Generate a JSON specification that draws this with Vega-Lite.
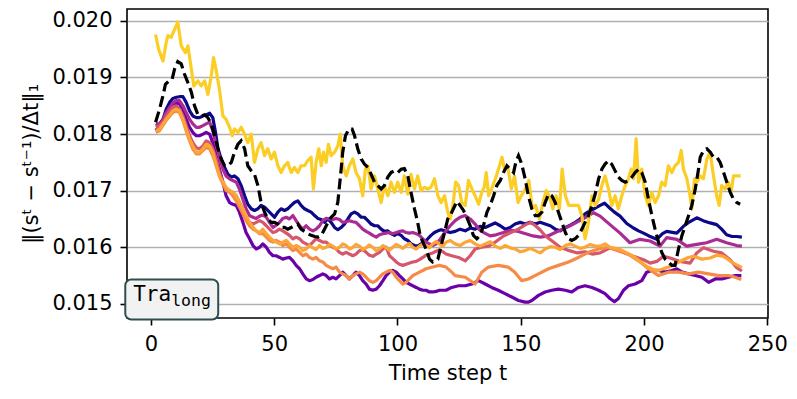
{
"$schema":"https://vega.github.io/schema/vega-lite/v6.json",
"width":641,"height":309,
"autosize":{"type":"none"},
"padding":{"left":127,"top":9,"right":29,"bottom":81},
"config":{"view":{"stroke":"black","strokeWidth":1.6},"font":"DejaVu Sans",
"axis":{"labelFont":"DejaVu Sans","titleFont":"DejaVu Sans","labelFontSize":21,"titleFontSize":21,"labelColor":"black","titleColor":"black","titleFontWeight":"normal","tickColor":"black","tickWidth":1.6,"tickSize":7,"labelPadding":8,"domain":false,"labelFlush":false,"labelOverlap":false}},
"datasets":{"lines":[
{"s":"navy","t":2,"v":0.01806},{"s":"navy","t":3.5,"v":0.01815},{"s":"navy","t":4.9,"v":0.01826},{"s":"navy","t":6.2,"v":0.01844},{"s":"navy","t":7.6,"v":0.01856},{"s":"navy","t":8.9,"v":0.01863},{"s":"navy","t":10.3,"v":0.01865},{"s":"navy","t":11.6,"v":0.01866},{"s":"navy","t":13,"v":0.01866},{"s":"navy","t":14.3,"v":0.01856},{"s":"navy","t":15.7,"v":0.01841},{"s":"navy","t":17,"v":0.01832},{"s":"navy","t":18.4,"v":0.01829},{"s":"navy","t":19.7,"v":0.01829},{"s":"navy","t":21.1,"v":0.01832},{"s":"navy","t":22.4,"v":0.01834},{"s":"navy","t":23.8,"v":0.01837},{"s":"navy","t":25.1,"v":0.01829},{"s":"navy","t":26.2,"v":0.01803},{"s":"navy","t":27.2,"v":0.01774},{"s":"navy","t":28.5,"v":0.01756},{"s":"navy","t":29.9,"v":0.01741},{"s":"navy","t":31.2,"v":0.01729},{"s":"navy","t":32.6,"v":0.01724},{"s":"navy","t":33.9,"v":0.01726},{"s":"navy","t":35.3,"v":0.01721},{"s":"navy","t":36.6,"v":0.01709},{"s":"navy","t":38,"v":0.01691},{"s":"navy","t":39.3,"v":0.01676},{"s":"navy","t":40.7,"v":0.01668},{"s":"navy","t":42,"v":0.01665},{"s":"navy","t":43.4,"v":0.01668},{"s":"navy","t":44.7,"v":0.01674},{"s":"navy","t":46.1,"v":0.01671},{"s":"navy","t":47.4,"v":0.01665},{"s":"navy","t":48.8,"v":0.01659},{"s":"navy","t":50.1,"v":0.01653},{"s":"navy","t":51.5,"v":0.01662},{"s":"navy","t":52.8,"v":0.01668},{"s":"navy","t":54.2,"v":0.01665},{"s":"navy","t":55.5,"v":0.01668},{"s":"navy","t":56.9,"v":0.01674},{"s":"navy","t":58.2,"v":0.01679},{"s":"navy","t":59.6,"v":0.01682},{"s":"navy","t":60.9,"v":0.01674},{"s":"navy","t":62.3,"v":0.01668},{"s":"navy","t":63.6,"v":0.01665},{"s":"navy","t":65,"v":0.01662},{"s":"navy","t":66.4,"v":0.01656},{"s":"navy","t":67.7,"v":0.01651},{"s":"navy","t":69.1,"v":0.01649},{"s":"navy","t":70.4,"v":0.01644},{"s":"navy","t":71.8,"v":0.0165},{"s":"navy","t":73.1,"v":0.01644},{"s":"navy","t":74.5,"v":0.01635},{"s":"navy","t":75.8,"v":0.01631},{"s":"navy","t":77.2,"v":0.01635},{"s":"navy","t":78.5,"v":0.01641},{"s":"navy","t":79.9,"v":0.0165},{"s":"navy","t":81.2,"v":0.01659},{"s":"navy","t":82.6,"v":0.01662},{"s":"navy","t":83.9,"v":0.01659},{"s":"navy","t":85.3,"v":0.01653},{"s":"navy","t":86.6,"v":0.01653},{"s":"navy","t":88,"v":0.01647},{"s":"navy","t":89.3,"v":0.01641},{"s":"navy","t":90.7,"v":0.01638},{"s":"navy","t":92,"v":0.01638},{"s":"navy","t":93.4,"v":0.01632},{"s":"navy","t":94.7,"v":0.01628},{"s":"navy","t":96.1,"v":0.01629},{"s":"navy","t":97.4,"v":0.01624},{"s":"navy","t":98.8,"v":0.01621},{"s":"navy","t":100.1,"v":0.01624},{"s":"navy","t":101.5,"v":0.01621},{"s":"navy","t":102.8,"v":0.01615},{"s":"navy","t":104.2,"v":0.01612},{"s":"navy","t":105.5,"v":0.01606},{"s":"navy","t":106.9,"v":0.01603},{"s":"navy","t":108.2,"v":0.01602},{"s":"navy","t":109.6,"v":0.01606},{"s":"navy","t":110.9,"v":0.01609},{"s":"navy","t":112.3,"v":0.01615},{"s":"navy","t":113.6,"v":0.01621},{"s":"navy","t":115,"v":0.01626},{"s":"navy","t":116.4,"v":0.01629},{"s":"navy","t":117.7,"v":0.01631},{"s":"navy","t":119.1,"v":0.01629},{"s":"navy","t":121.4,"v":0.01626},{"s":"navy","t":123.4,"v":0.01628},{"s":"navy","t":125.4,"v":0.01632},{"s":"navy","t":127.5,"v":0.01629},{"s":"navy","t":129.5,"v":0.01634},{"s":"navy","t":131.5,"v":0.01632},{"s":"navy","t":133.5,"v":0.01637},{"s":"navy","t":135.6,"v":0.01635},{"s":"navy","t":137.6,"v":0.01639},{"s":"navy","t":139.6,"v":0.01643},{"s":"navy","t":141.7,"v":0.01638},{"s":"navy","t":143.7,"v":0.01632},{"s":"navy","t":145.7,"v":0.01635},{"s":"navy","t":147.7,"v":0.01641},{"s":"navy","t":149.8,"v":0.01644},{"s":"navy","t":151.8,"v":0.01641},{"s":"navy","t":153.8,"v":0.01644},{"s":"navy","t":155.9,"v":0.01641},{"s":"navy","t":157.9,"v":0.01644},{"s":"navy","t":159.9,"v":0.01641},{"s":"navy","t":162,"v":0.01638},{"s":"navy","t":164,"v":0.01632},{"s":"navy","t":166,"v":0.01629},{"s":"navy","t":168.1,"v":0.01635},{"s":"navy","t":170.1,"v":0.01639},{"s":"navy","t":172.1,"v":0.01644},{"s":"navy","t":174.1,"v":0.0165},{"s":"navy","t":176.1,"v":0.01659},{"s":"navy","t":178.2,"v":0.01665},{"s":"navy","t":180.2,"v":0.01669},{"s":"navy","t":182.2,"v":0.01674},{"s":"navy","t":184,"v":0.01678},{"s":"navy","t":186.2,"v":0.01669},{"s":"navy","t":188,"v":0.01662},{"s":"navy","t":190.3,"v":0.01655},{"s":"navy","t":193,"v":0.01642},{"s":"navy","t":195.7,"v":0.01634},{"s":"navy","t":197.8,"v":0.01629},{"s":"navy","t":199.8,"v":0.01625},{"s":"navy","t":202,"v":0.0162},{"s":"navy","t":205.2,"v":0.01614},{"s":"navy","t":207.5,"v":0.01624},{"s":"navy","t":209.2,"v":0.01628},{"s":"navy","t":213.3,"v":0.01625},{"s":"navy","t":216,"v":0.01637},{"s":"navy","t":218.5,"v":0.01645},{"s":"navy","t":221.4,"v":0.01652},{"s":"navy","t":224,"v":0.01647},{"s":"navy","t":226.8,"v":0.01643},{"s":"navy","t":229.5,"v":0.0164},{"s":"navy","t":231.5,"v":0.01632},{"s":"navy","t":233.5,"v":0.01622},{"s":"navy","t":235.7,"v":0.01619},{"s":"navy","t":237.6,"v":0.01619},{"s":"navy","t":239.7,"v":0.01618},
{"s":"violet","t":2,"v":0.01815},{"s":"violet","t":3.5,"v":0.01818},{"s":"violet","t":4.9,"v":0.01826},{"s":"violet","t":6.2,"v":0.01838},{"s":"violet","t":7.6,"v":0.01847},{"s":"violet","t":8.9,"v":0.01853},{"s":"violet","t":10.3,"v":0.01856},{"s":"violet","t":11.6,"v":0.01853},{"s":"violet","t":13,"v":0.01844},{"s":"violet","t":14.3,"v":0.01826},{"s":"violet","t":15.7,"v":0.01812},{"s":"violet","t":17,"v":0.01803},{"s":"violet","t":18.4,"v":0.01797},{"s":"violet","t":19.7,"v":0.01797},{"s":"violet","t":21.1,"v":0.018},{"s":"violet","t":22.4,"v":0.01803},{"s":"violet","t":23.8,"v":0.018},{"s":"violet","t":25.1,"v":0.01785},{"s":"violet","t":26.5,"v":0.01762},{"s":"violet","t":27.8,"v":0.01738},{"s":"violet","t":29.2,"v":0.01715},{"s":"violet","t":30.5,"v":0.01691},{"s":"violet","t":31.9,"v":0.01679},{"s":"violet","t":33.2,"v":0.01676},{"s":"violet","t":34.6,"v":0.01674},{"s":"violet","t":35.9,"v":0.01662},{"s":"violet","t":37.3,"v":0.01644},{"s":"violet","t":38.6,"v":0.01626},{"s":"violet","t":40,"v":0.01615},{"s":"violet","t":41.4,"v":0.01603},{"s":"violet","t":42.7,"v":0.01597},{"s":"violet","t":44.1,"v":0.016},{"s":"violet","t":45.4,"v":0.01606},{"s":"violet","t":46.8,"v":0.016},{"s":"violet","t":48.1,"v":0.01591},{"s":"violet","t":49.5,"v":0.01585},{"s":"violet","t":50.8,"v":0.01585},{"s":"violet","t":52.2,"v":0.01582},{"s":"violet","t":53.5,"v":0.01579},{"s":"violet","t":54.9,"v":0.01581},{"s":"violet","t":56.2,"v":0.01582},{"s":"violet","t":57.6,"v":0.01576},{"s":"violet","t":58.9,"v":0.01568},{"s":"violet","t":60.3,"v":0.01562},{"s":"violet","t":61.6,"v":0.01553},{"s":"violet","t":63,"v":0.01544},{"s":"violet","t":64.3,"v":0.01541},{"s":"violet","t":65.7,"v":0.01543},{"s":"violet","t":67,"v":0.01547},{"s":"violet","t":68.4,"v":0.0155},{"s":"violet","t":69.7,"v":0.01553},{"s":"violet","t":71.1,"v":0.0155},{"s":"violet","t":72.4,"v":0.01544},{"s":"violet","t":73.8,"v":0.01547},{"s":"violet","t":75.1,"v":0.01544},{"s":"violet","t":76.5,"v":0.0155},{"s":"violet","t":77.8,"v":0.01556},{"s":"violet","t":79.2,"v":0.0155},{"s":"violet","t":80.5,"v":0.01544},{"s":"violet","t":81.9,"v":0.0155},{"s":"violet","t":83.2,"v":0.01556},{"s":"violet","t":84.6,"v":0.0155},{"s":"violet","t":85.9,"v":0.01541},{"s":"violet","t":87.3,"v":0.01535},{"s":"violet","t":88.6,"v":0.01526},{"s":"violet","t":90,"v":0.01524},{"s":"violet","t":91.4,"v":0.01526},{"s":"violet","t":92.7,"v":0.01532},{"s":"violet","t":94.1,"v":0.01541},{"s":"violet","t":95.4,"v":0.0155},{"s":"violet","t":96.8,"v":0.01556},{"s":"violet","t":98.1,"v":0.01559},{"s":"violet","t":99.5,"v":0.01556},{"s":"violet","t":100.8,"v":0.0155},{"s":"violet","t":102.2,"v":0.01544},{"s":"violet","t":103.5,"v":0.01538},{"s":"violet","t":104.9,"v":0.01535},{"s":"violet","t":106.2,"v":0.01532},{"s":"violet","t":107.6,"v":0.01529},{"s":"violet","t":108.9,"v":0.01526},{"s":"violet","t":110.3,"v":0.01524},{"s":"violet","t":111.6,"v":0.01524},{"s":"violet","t":113,"v":0.01521},{"s":"violet","t":114.3,"v":0.01521},{"s":"violet","t":115.7,"v":0.01522},{"s":"violet","t":117,"v":0.01524},{"s":"violet","t":118.4,"v":0.01524},{"s":"violet","t":119.7,"v":0.01524},{"s":"violet","t":122,"v":0.01529},{"s":"violet","t":124.8,"v":0.01532},{"s":"violet","t":127.5,"v":0.01532},{"s":"violet","t":130.2,"v":0.01535},{"s":"violet","t":132.9,"v":0.01541},{"s":"violet","t":135.6,"v":0.01535},{"s":"violet","t":138.2,"v":0.01529},{"s":"violet","t":140.9,"v":0.01524},{"s":"violet","t":143.6,"v":0.01518},{"s":"violet","t":146.4,"v":0.01512},{"s":"violet","t":149.1,"v":0.01506},{"s":"violet","t":151.8,"v":0.01503},{"s":"violet","t":153.1,"v":0.01503},{"s":"violet","t":154.5,"v":0.01506},{"s":"violet","t":157.2,"v":0.01515},{"s":"violet","t":159.9,"v":0.01521},{"s":"violet","t":162.6,"v":0.01524},{"s":"violet","t":165.3,"v":0.01526},{"s":"violet","t":168.1,"v":0.01524},{"s":"violet","t":170.7,"v":0.01521},{"s":"violet","t":173.4,"v":0.01529},{"s":"violet","t":176.1,"v":0.01532},{"s":"violet","t":178.9,"v":0.01529},{"s":"violet","t":181.6,"v":0.01524},{"s":"violet","t":184.2,"v":0.01518},{"s":"violet","t":186.3,"v":0.01509},{"s":"violet","t":188,"v":0.01504},{"s":"violet","t":189.6,"v":0.01509},{"s":"violet","t":191.7,"v":0.01524},{"s":"violet","t":193.7,"v":0.01532},{"s":"violet","t":196.4,"v":0.01535},{"s":"violet","t":199.1,"v":0.01541},{"s":"violet","t":201.1,"v":0.01556},{"s":"violet","t":203.2,"v":0.01559},{"s":"violet","t":205.9,"v":0.01559},{"s":"violet","t":208.6,"v":0.01556},{"s":"violet","t":211.3,"v":0.01559},{"s":"violet","t":213.3,"v":0.01562},{"s":"violet","t":215.4,"v":0.01556},{"s":"violet","t":218.1,"v":0.01553},{"s":"violet","t":220.8,"v":0.0155},{"s":"violet","t":223.5,"v":0.01547},{"s":"violet","t":226.2,"v":0.01538},{"s":"violet","t":228.9,"v":0.01544},{"s":"violet","t":231.6,"v":0.01544},{"s":"violet","t":234.3,"v":0.01547},{"s":"violet","t":237,"v":0.0155},{"s":"violet","t":239.5,"v":0.0155},
{"s":"magenta","t":2,"v":0.01818},{"s":"magenta","t":3.5,"v":0.01818},{"s":"magenta","t":4.9,"v":0.01826},{"s":"magenta","t":6.2,"v":0.01838},{"s":"magenta","t":7.6,"v":0.01847},{"s":"magenta","t":8.9,"v":0.01855},{"s":"magenta","t":10.3,"v":0.01859},{"s":"magenta","t":11.6,"v":0.01859},{"s":"magenta","t":13,"v":0.0185},{"s":"magenta","t":14.3,"v":0.01838},{"s":"magenta","t":15.7,"v":0.01826},{"s":"magenta","t":17,"v":0.01818},{"s":"magenta","t":18.4,"v":0.01812},{"s":"magenta","t":19.7,"v":0.01812},{"s":"magenta","t":21.1,"v":0.01815},{"s":"magenta","t":22.4,"v":0.01818},{"s":"magenta","t":23.8,"v":0.01821},{"s":"magenta","t":25.1,"v":0.01806},{"s":"magenta","t":26.2,"v":0.01785},{"s":"magenta","t":27.6,"v":0.01762},{"s":"magenta","t":29.2,"v":0.01738},{"s":"magenta","t":30.5,"v":0.01726},{"s":"magenta","t":31.9,"v":0.01721},{"s":"magenta","t":33.2,"v":0.01718},{"s":"magenta","t":34.6,"v":0.01715},{"s":"magenta","t":35.9,"v":0.01703},{"s":"magenta","t":37.3,"v":0.01685},{"s":"magenta","t":38.6,"v":0.01668},{"s":"magenta","t":40,"v":0.01656},{"s":"magenta","t":41.4,"v":0.01653},{"s":"magenta","t":42.7,"v":0.01651},{"s":"magenta","t":44.1,"v":0.01655},{"s":"magenta","t":45.4,"v":0.01657},{"s":"magenta","t":46.8,"v":0.01653},{"s":"magenta","t":48.1,"v":0.01644},{"s":"magenta","t":49.5,"v":0.01635},{"s":"magenta","t":50.8,"v":0.01639},{"s":"magenta","t":52.2,"v":0.01644},{"s":"magenta","t":53.5,"v":0.01651},{"s":"magenta","t":54.9,"v":0.01653},{"s":"magenta","t":56.2,"v":0.0165},{"s":"magenta","t":57.6,"v":0.01656},{"s":"magenta","t":58.9,"v":0.01647},{"s":"magenta","t":60.3,"v":0.01638},{"s":"magenta","t":61.6,"v":0.01632},{"s":"magenta","t":63,"v":0.01638},{"s":"magenta","t":64.3,"v":0.01632},{"s":"magenta","t":65.7,"v":0.01629},{"s":"magenta","t":67,"v":0.01632},{"s":"magenta","t":68.4,"v":0.01638},{"s":"magenta","t":69.7,"v":0.01647},{"s":"magenta","t":71.1,"v":0.01651},{"s":"magenta","t":72.4,"v":0.0165},{"s":"magenta","t":73.8,"v":0.01649},{"s":"magenta","t":75.1,"v":0.01651},{"s":"magenta","t":76.5,"v":0.01649},{"s":"magenta","t":77.8,"v":0.01644},{"s":"magenta","t":79.2,"v":0.01645},{"s":"magenta","t":80.5,"v":0.01647},{"s":"magenta","t":81.9,"v":0.01645},{"s":"magenta","t":83.2,"v":0.01644},{"s":"magenta","t":84.6,"v":0.01638},{"s":"magenta","t":85.9,"v":0.01632},{"s":"magenta","t":87.3,"v":0.01628},{"s":"magenta","t":88.6,"v":0.01625},{"s":"magenta","t":90,"v":0.01621},{"s":"magenta","t":91.4,"v":0.01618},{"s":"magenta","t":92.7,"v":0.01622},{"s":"magenta","t":94.1,"v":0.01624},{"s":"magenta","t":95.4,"v":0.01625},{"s":"magenta","t":96.8,"v":0.01626},{"s":"magenta","t":98.1,"v":0.01624},{"s":"magenta","t":99.5,"v":0.01626},{"s":"magenta","t":100.8,"v":0.01628},{"s":"magenta","t":102.2,"v":0.01629},{"s":"magenta","t":103.5,"v":0.01626},{"s":"magenta","t":104.9,"v":0.01625},{"s":"magenta","t":106.2,"v":0.01626},{"s":"magenta","t":107.6,"v":0.01624},{"s":"magenta","t":108.9,"v":0.01621},{"s":"magenta","t":110.3,"v":0.01615},{"s":"magenta","t":111.6,"v":0.01609},{"s":"magenta","t":113,"v":0.01606},{"s":"magenta","t":114.3,"v":0.01603},{"s":"magenta","t":115.7,"v":0.01606},{"s":"magenta","t":117,"v":0.01612},{"s":"magenta","t":118.4,"v":0.01621},{"s":"magenta","t":119.7,"v":0.01629},{"s":"magenta","t":121.4,"v":0.01638},{"s":"magenta","t":123.4,"v":0.01647},{"s":"magenta","t":125.4,"v":0.01653},{"s":"magenta","t":127.5,"v":0.01656},{"s":"magenta","t":129.5,"v":0.0165},{"s":"magenta","t":131.5,"v":0.01641},{"s":"magenta","t":133,"v":0.01632},{"s":"magenta","t":135,"v":0.01626},{"s":"magenta","t":137.6,"v":0.0162},{"s":"magenta","t":140,"v":0.01622},{"s":"magenta","t":143,"v":0.01626},{"s":"magenta","t":146,"v":0.0163},{"s":"magenta","t":149,"v":0.01628},{"s":"magenta","t":152,"v":0.01624},{"s":"magenta","t":155,"v":0.0162},{"s":"magenta","t":158,"v":0.01618},{"s":"magenta","t":161,"v":0.0162},{"s":"magenta","t":164,"v":0.01626},{"s":"magenta","t":167,"v":0.01632},{"s":"magenta","t":170,"v":0.01638},{"s":"magenta","t":173,"v":0.01645},{"s":"magenta","t":176,"v":0.01652},{"s":"magenta","t":179.5,"v":0.01661},{"s":"magenta","t":182.2,"v":0.01655},{"s":"magenta","t":186.2,"v":0.0164},{"s":"magenta","t":190.3,"v":0.01625},{"s":"magenta","t":194.3,"v":0.01608},{"s":"magenta","t":198.4,"v":0.01614},{"s":"magenta","t":202.5,"v":0.01611},{"s":"magenta","t":206.5,"v":0.01602},{"s":"magenta","t":209.2,"v":0.01617},{"s":"magenta","t":213.3,"v":0.01614},{"s":"magenta","t":217.3,"v":0.01602},{"s":"magenta","t":221.4,"v":0.01605},{"s":"magenta","t":225.4,"v":0.01608},{"s":"magenta","t":229.5,"v":0.01614},{"s":"magenta","t":233.5,"v":0.01608},{"s":"magenta","t":237.6,"v":0.01603},{"s":"magenta","t":239.7,"v":0.01602},
{"s":"pink","t":2,"v":0.01812},{"s":"pink","t":3.5,"v":0.01815},{"s":"pink","t":4.9,"v":0.01821},{"s":"pink","t":6.2,"v":0.01832},{"s":"pink","t":7.6,"v":0.01841},{"s":"pink","t":8.9,"v":0.01847},{"s":"pink","t":10.3,"v":0.0185},{"s":"pink","t":11.6,"v":0.01844},{"s":"pink","t":13,"v":0.01832},{"s":"pink","t":14.3,"v":0.01815},{"s":"pink","t":15.7,"v":0.01797},{"s":"pink","t":17,"v":0.01785},{"s":"pink","t":18.4,"v":0.01776},{"s":"pink","t":19.7,"v":0.01774},{"s":"pink","t":21.1,"v":0.01779},{"s":"pink","t":22.4,"v":0.01788},{"s":"pink","t":23.8,"v":0.01785},{"s":"pink","t":25.1,"v":0.01774},{"s":"pink","t":26.5,"v":0.01756},{"s":"pink","t":27.8,"v":0.01732},{"s":"pink","t":29.2,"v":0.01715},{"s":"pink","t":30.5,"v":0.01703},{"s":"pink","t":31.9,"v":0.017},{"s":"pink","t":33.2,"v":0.01697},{"s":"pink","t":34.6,"v":0.01691},{"s":"pink","t":35.9,"v":0.01679},{"s":"pink","t":37.3,"v":0.01668},{"s":"pink","t":38.6,"v":0.01653},{"s":"pink","t":40,"v":0.01644},{"s":"pink","t":41.4,"v":0.01641},{"s":"pink","t":42.7,"v":0.01644},{"s":"pink","t":44.1,"v":0.01647},{"s":"pink","t":45.4,"v":0.01644},{"s":"pink","t":46.8,"v":0.01638},{"s":"pink","t":48.1,"v":0.01632},{"s":"pink","t":49.5,"v":0.01626},{"s":"pink","t":50.8,"v":0.01628},{"s":"pink","t":52.2,"v":0.01632},{"s":"pink","t":53.5,"v":0.01629},{"s":"pink","t":54.9,"v":0.01625},{"s":"pink","t":56.2,"v":0.01621},{"s":"pink","t":57.6,"v":0.01615},{"s":"pink","t":58.9,"v":0.01618},{"s":"pink","t":60.3,"v":0.01615},{"s":"pink","t":61.6,"v":0.01609},{"s":"pink","t":63,"v":0.01606},{"s":"pink","t":64.3,"v":0.01603},{"s":"pink","t":65.7,"v":0.01609},{"s":"pink","t":67,"v":0.01615},{"s":"pink","t":68.4,"v":0.01612},{"s":"pink","t":69.7,"v":0.01609},{"s":"pink","t":71.1,"v":0.01609},{"s":"pink","t":72.4,"v":0.01604},{"s":"pink","t":73.8,"v":0.016},{"s":"pink","t":75.1,"v":0.01597},{"s":"pink","t":76.5,"v":0.01591},{"s":"pink","t":77.8,"v":0.01588},{"s":"pink","t":79.2,"v":0.01591},{"s":"pink","t":80.5,"v":0.01588},{"s":"pink","t":81.9,"v":0.01585},{"s":"pink","t":83.2,"v":0.01588},{"s":"pink","t":84.6,"v":0.01594},{"s":"pink","t":85.9,"v":0.01596},{"s":"pink","t":87.3,"v":0.01591},{"s":"pink","t":88.6,"v":0.01586},{"s":"pink","t":90,"v":0.01584},{"s":"pink","t":91.4,"v":0.01588},{"s":"pink","t":92.7,"v":0.01591},{"s":"pink","t":94.1,"v":0.01597},{"s":"pink","t":95.4,"v":0.016},{"s":"pink","t":96.8,"v":0.01585},{"s":"pink","t":98.1,"v":0.0158},{"s":"pink","t":99.5,"v":0.01574},{"s":"pink","t":100.8,"v":0.0157},{"s":"pink","t":102.2,"v":0.01568},{"s":"pink","t":103.5,"v":0.0157},{"s":"pink","t":104.9,"v":0.01572},{"s":"pink","t":106.2,"v":0.01574},{"s":"pink","t":107.6,"v":0.01575},{"s":"pink","t":108.9,"v":0.01578},{"s":"pink","t":110.3,"v":0.01582},{"s":"pink","t":111.6,"v":0.01586},{"s":"pink","t":113,"v":0.01588},{"s":"pink","t":114.3,"v":0.0159},{"s":"pink","t":115.7,"v":0.01593},{"s":"pink","t":117,"v":0.01595},{"s":"pink","t":118.4,"v":0.01592},{"s":"pink","t":119.7,"v":0.01588},{"s":"pink","t":122,"v":0.01585},{"s":"pink","t":124.8,"v":0.01582},{"s":"pink","t":127.5,"v":0.01576},{"s":"pink","t":129.5,"v":0.01585},{"s":"pink","t":131.5,"v":0.01597},{"s":"pink","t":134.2,"v":0.016},{"s":"pink","t":137,"v":0.01602},{"s":"pink","t":140,"v":0.0161},{"s":"pink","t":143,"v":0.0162},{"s":"pink","t":146,"v":0.01626},{"s":"pink","t":149,"v":0.01632},{"s":"pink","t":152,"v":0.0164},{"s":"pink","t":154,"v":0.01644},{"s":"pink","t":156,"v":0.01638},{"s":"pink","t":158,"v":0.0163},{"s":"pink","t":160,"v":0.0162},{"s":"pink","t":163,"v":0.0161},{"s":"pink","t":166,"v":0.016},{"s":"pink","t":169,"v":0.01595},{"s":"pink","t":173,"v":0.0159},{"s":"pink","t":176,"v":0.01592},{"s":"pink","t":179,"v":0.01588},{"s":"pink","t":182.2,"v":0.0159},{"s":"pink","t":186.2,"v":0.01599},{"s":"pink","t":190.3,"v":0.01593},{"s":"pink","t":195.7,"v":0.01584},{"s":"pink","t":199.8,"v":0.01578},{"s":"pink","t":202.5,"v":0.01572},{"s":"pink","t":205.2,"v":0.01575},{"s":"pink","t":207.9,"v":0.01584},{"s":"pink","t":210.6,"v":0.01581},{"s":"pink","t":214.6,"v":0.01575},{"s":"pink","t":218.7,"v":0.01572},{"s":"pink","t":221.4,"v":0.0159},{"s":"pink","t":224.1,"v":0.01599},{"s":"pink","t":228.2,"v":0.01593},{"s":"pink","t":231.5,"v":0.0159},{"s":"pink","t":234.9,"v":0.01578},{"s":"pink","t":237.6,"v":0.01564},{"s":"pink","t":239.7,"v":0.01558},
{"s":"orange","t":2,"v":0.01803},{"s":"orange","t":3.5,"v":0.01806},{"s":"orange","t":6.2,"v":0.01824},{"s":"orange","t":8.9,"v":0.01838},{"s":"orange","t":10.3,"v":0.01841},{"s":"orange","t":11.6,"v":0.01838},{"s":"orange","t":13,"v":0.01824},{"s":"orange","t":14.3,"v":0.01806},{"s":"orange","t":15.7,"v":0.01788},{"s":"orange","t":17,"v":0.01774},{"s":"orange","t":18.4,"v":0.01765},{"s":"orange","t":19.7,"v":0.01765},{"s":"orange","t":21.1,"v":0.01771},{"s":"orange","t":22.4,"v":0.01776},{"s":"orange","t":23.8,"v":0.01774},{"s":"orange","t":25.1,"v":0.01762},{"s":"orange","t":26.5,"v":0.01744},{"s":"orange","t":27.8,"v":0.01726},{"s":"orange","t":29.2,"v":0.01712},{"s":"orange","t":30.5,"v":0.017},{"s":"orange","t":31.9,"v":0.01697},{"s":"orange","t":33.2,"v":0.01691},{"s":"orange","t":34.6,"v":0.01682},{"s":"orange","t":35.9,"v":0.01671},{"s":"orange","t":37.3,"v":0.01659},{"s":"orange","t":38.6,"v":0.01647},{"s":"orange","t":40,"v":0.01638},{"s":"orange","t":41.4,"v":0.01632},{"s":"orange","t":42.7,"v":0.01629},{"s":"orange","t":44.1,"v":0.01624},{"s":"orange","t":45.4,"v":0.01624},{"s":"orange","t":46.8,"v":0.01618},{"s":"orange","t":48.1,"v":0.01612},{"s":"orange","t":49.5,"v":0.01609},{"s":"orange","t":50.8,"v":0.01612},{"s":"orange","t":52.2,"v":0.01609},{"s":"orange","t":53.5,"v":0.01603},{"s":"orange","t":54.9,"v":0.01606},{"s":"orange","t":56.2,"v":0.016},{"s":"orange","t":57.6,"v":0.01594},{"s":"orange","t":58.9,"v":0.01597},{"s":"orange","t":60.3,"v":0.01591},{"s":"orange","t":61.6,"v":0.01585},{"s":"orange","t":63,"v":0.01588},{"s":"orange","t":64.3,"v":0.01582},{"s":"orange","t":65.7,"v":0.01579},{"s":"orange","t":67,"v":0.01582},{"s":"orange","t":68.4,"v":0.01576},{"s":"orange","t":69.7,"v":0.01574},{"s":"orange","t":71.1,"v":0.01568},{"s":"orange","t":72.4,"v":0.01565},{"s":"orange","t":73.8,"v":0.01562},{"s":"orange","t":75.1,"v":0.01565},{"s":"orange","t":76.5,"v":0.01556},{"s":"orange","t":77.8,"v":0.01553},{"s":"orange","t":79.2,"v":0.0155},{"s":"orange","t":80.5,"v":0.01544},{"s":"orange","t":81.9,"v":0.0155},{"s":"orange","t":83.2,"v":0.01553},{"s":"orange","t":84.6,"v":0.01556},{"s":"orange","t":85.9,"v":0.01553},{"s":"orange","t":87.3,"v":0.01547},{"s":"orange","t":88.6,"v":0.01541},{"s":"orange","t":90,"v":0.01538},{"s":"orange","t":91.4,"v":0.01541},{"s":"orange","t":92.7,"v":0.01547},{"s":"orange","t":94.1,"v":0.01553},{"s":"orange","t":95.4,"v":0.01556},{"s":"orange","t":96.8,"v":0.01559},{"s":"orange","t":98.1,"v":0.01556},{"s":"orange","t":99.5,"v":0.01547},{"s":"orange","t":100.8,"v":0.01541},{"s":"orange","t":102.2,"v":0.01535},{"s":"orange","t":103.5,"v":0.01538},{"s":"orange","t":104.9,"v":0.01544},{"s":"orange","t":106.2,"v":0.0155},{"s":"orange","t":107.6,"v":0.01553},{"s":"orange","t":108.9,"v":0.01556},{"s":"orange","t":110.3,"v":0.01559},{"s":"orange","t":111.6,"v":0.01562},{"s":"orange","t":114.3,"v":0.01565},{"s":"orange","t":117,"v":0.01568},{"s":"orange","t":119.7,"v":0.01565},{"s":"orange","t":122,"v":0.01556},{"s":"orange","t":123.4,"v":0.0155},{"s":"orange","t":127.5,"v":0.01547},{"s":"orange","t":131.5,"v":0.01535},{"s":"orange","t":134.2,"v":0.01556},{"s":"orange","t":136.9,"v":0.01565},{"s":"orange","t":140.9,"v":0.01568},{"s":"orange","t":144.9,"v":0.01565},{"s":"orange","t":147.6,"v":0.01556},{"s":"orange","t":150.4,"v":0.01541},{"s":"orange","t":153.1,"v":0.01544},{"s":"orange","t":157.2,"v":0.01553},{"s":"orange","t":161.3,"v":0.01562},{"s":"orange","t":165.3,"v":0.01568},{"s":"orange","t":169.4,"v":0.01574},{"s":"orange","t":173.4,"v":0.01582},{"s":"orange","t":177.5,"v":0.01591},{"s":"orange","t":181.6,"v":0.01597},{"s":"orange","t":185.6,"v":0.016},{"s":"orange","t":189.6,"v":0.01594},{"s":"orange","t":193.7,"v":0.01588},{"s":"orange","t":197.8,"v":0.01576},{"s":"orange","t":201.8,"v":0.01562},{"s":"orange","t":205.9,"v":0.0155},{"s":"orange","t":209.9,"v":0.01556},{"s":"orange","t":214,"v":0.01556},{"s":"orange","t":218.1,"v":0.01553},{"s":"orange","t":222.1,"v":0.01556},{"s":"orange","t":226.2,"v":0.01553},{"s":"orange","t":230.3,"v":0.0155},{"s":"orange","t":234.3,"v":0.0155},{"s":"orange","t":237,"v":0.01547},{"s":"orange","t":239.5,"v":0.01543},
{"s":"lorange","t":2,"v":0.01806},{"s":"lorange","t":3.5,"v":0.01809},{"s":"lorange","t":6.2,"v":0.01826},{"s":"lorange","t":8.9,"v":0.01841},{"s":"lorange","t":10.3,"v":0.01844},{"s":"lorange","t":11.6,"v":0.01841},{"s":"lorange","t":13,"v":0.01826},{"s":"lorange","t":14.3,"v":0.01809},{"s":"lorange","t":15.7,"v":0.01791},{"s":"lorange","t":17,"v":0.01779},{"s":"lorange","t":18.4,"v":0.01768},{"s":"lorange","t":19.7,"v":0.01768},{"s":"lorange","t":21.1,"v":0.01774},{"s":"lorange","t":22.4,"v":0.01782},{"s":"lorange","t":23.8,"v":0.01779},{"s":"lorange","t":25.1,"v":0.01768},{"s":"lorange","t":26.5,"v":0.01744},{"s":"lorange","t":27.8,"v":0.01726},{"s":"lorange","t":29.2,"v":0.01715},{"s":"lorange","t":30.5,"v":0.01706},{"s":"lorange","t":31.9,"v":0.017},{"s":"lorange","t":33.2,"v":0.01697},{"s":"lorange","t":34.6,"v":0.01691},{"s":"lorange","t":35.9,"v":0.01679},{"s":"lorange","t":37.3,"v":0.01668},{"s":"lorange","t":38.6,"v":0.01656},{"s":"lorange","t":40,"v":0.01644},{"s":"lorange","t":41.4,"v":0.01635},{"s":"lorange","t":42.7,"v":0.01629},{"s":"lorange","t":44.1,"v":0.01626},{"s":"lorange","t":45.4,"v":0.01632},{"s":"lorange","t":46.8,"v":0.01624},{"s":"lorange","t":48.1,"v":0.01618},{"s":"lorange","t":49.5,"v":0.01612},{"s":"lorange","t":50.8,"v":0.01609},{"s":"lorange","t":52.2,"v":0.01606},{"s":"lorange","t":53.5,"v":0.01609},{"s":"lorange","t":54.9,"v":0.01612},{"s":"lorange","t":56.2,"v":0.01606},{"s":"lorange","t":57.6,"v":0.016},{"s":"lorange","t":58.9,"v":0.01603},{"s":"lorange","t":60.3,"v":0.016},{"s":"lorange","t":61.6,"v":0.01594},{"s":"lorange","t":63,"v":0.01597},{"s":"lorange","t":64.3,"v":0.01603},{"s":"lorange","t":65.7,"v":0.01599},{"s":"lorange","t":67,"v":0.01596},{"s":"lorange","t":68.4,"v":0.01603},{"s":"lorange","t":69.7,"v":0.01598},{"s":"lorange","t":71.1,"v":0.016},{"s":"lorange","t":72.4,"v":0.01605},{"s":"lorange","t":73.8,"v":0.01602},{"s":"lorange","t":75.1,"v":0.01597},{"s":"lorange","t":76.5,"v":0.016},{"s":"lorange","t":77.8,"v":0.01606},{"s":"lorange","t":79.2,"v":0.01603},{"s":"lorange","t":80.5,"v":0.01597},{"s":"lorange","t":81.9,"v":0.016},{"s":"lorange","t":83.2,"v":0.01605},{"s":"lorange","t":84.6,"v":0.01602},{"s":"lorange","t":85.9,"v":0.01596},{"s":"lorange","t":87.3,"v":0.01599},{"s":"lorange","t":88.6,"v":0.01604},{"s":"lorange","t":90,"v":0.016},{"s":"lorange","t":91.4,"v":0.01594},{"s":"lorange","t":92.7,"v":0.01597},{"s":"lorange","t":94.1,"v":0.01603},{"s":"lorange","t":95.4,"v":0.01599},{"s":"lorange","t":96.8,"v":0.01595},{"s":"lorange","t":98.1,"v":0.016},{"s":"lorange","t":99.5,"v":0.01605},{"s":"lorange","t":100.8,"v":0.01602},{"s":"lorange","t":102.2,"v":0.01598},{"s":"lorange","t":103.5,"v":0.01603},{"s":"lorange","t":104.9,"v":0.01607},{"s":"lorange","t":106.2,"v":0.016},{"s":"lorange","t":107.6,"v":0.01597},{"s":"lorange","t":108.9,"v":0.01602},{"s":"lorange","t":110.3,"v":0.01606},{"s":"lorange","t":111.6,"v":0.01603},{"s":"lorange","t":113,"v":0.01599},{"s":"lorange","t":114.3,"v":0.01606},{"s":"lorange","t":115.7,"v":0.0161},{"s":"lorange","t":117,"v":0.01606},{"s":"lorange","t":118.4,"v":0.01602},{"s":"lorange","t":119.7,"v":0.01609},{"s":"lorange","t":121.4,"v":0.01612},{"s":"lorange","t":123.4,"v":0.01606},{"s":"lorange","t":125.4,"v":0.01603},{"s":"lorange","t":127.5,"v":0.01609},{"s":"lorange","t":129.5,"v":0.01612},{"s":"lorange","t":131.5,"v":0.01606},{"s":"lorange","t":133.5,"v":0.01602},{"s":"lorange","t":135.6,"v":0.01606},{"s":"lorange","t":137.6,"v":0.0161},{"s":"lorange","t":139.6,"v":0.01602},{"s":"lorange","t":141.7,"v":0.01598},{"s":"lorange","t":143.7,"v":0.01603},{"s":"lorange","t":145.7,"v":0.01599},{"s":"lorange","t":147.7,"v":0.01597},{"s":"lorange","t":149.8,"v":0.01592},{"s":"lorange","t":151.8,"v":0.01594},{"s":"lorange","t":153.8,"v":0.01598},{"s":"lorange","t":155.9,"v":0.01594},{"s":"lorange","t":157.9,"v":0.0159},{"s":"lorange","t":159.9,"v":0.01597},{"s":"lorange","t":162,"v":0.01601},{"s":"lorange","t":164,"v":0.016},{"s":"lorange","t":166,"v":0.01596},{"s":"lorange","t":168.1,"v":0.01603},{"s":"lorange","t":170.1,"v":0.01606},{"s":"lorange","t":172.1,"v":0.01602},{"s":"lorange","t":174.1,"v":0.01598},{"s":"lorange","t":176.1,"v":0.016},{"s":"lorange","t":178.2,"v":0.01605},{"s":"lorange","t":180.2,"v":0.01602},{"s":"lorange","t":182.2,"v":0.01602},{"s":"lorange","t":184.2,"v":0.01606},{"s":"lorange","t":186.2,"v":0.016},{"s":"lorange","t":188.3,"v":0.01598},{"s":"lorange","t":190.3,"v":0.01596},{"s":"lorange","t":193,"v":0.0159},{"s":"lorange","t":195.7,"v":0.01584},{"s":"lorange","t":198.4,"v":0.01575},{"s":"lorange","t":201.1,"v":0.01566},{"s":"lorange","t":203.2,"v":0.01562},{"s":"lorange","t":205.2,"v":0.01558},{"s":"lorange","t":207.9,"v":0.01562},{"s":"lorange","t":210.6,"v":0.01566},{"s":"lorange","t":213.3,"v":0.01572},{"s":"lorange","t":216,"v":0.01578},{"s":"lorange","t":218,"v":0.01582},{"s":"lorange","t":220,"v":0.01584},{"s":"lorange","t":223.5,"v":0.01579},{"s":"lorange","t":226.8,"v":0.01581},{"s":"lorange","t":229.5,"v":0.01586},{"s":"lorange","t":232.2,"v":0.01584},{"s":"lorange","t":234.3,"v":0.01578},{"s":"lorange","t":236.2,"v":0.01572},{"s":"lorange","t":239.7,"v":0.01564},
{"s":"gold","t":1.9,"v":0.01976},{"s":"gold","t":3.1,"v":0.0195},{"s":"gold","t":4.9,"v":0.01929},{"s":"gold","t":6.2,"v":0.01962},{"s":"gold","t":6.9,"v":0.01974},{"s":"gold","t":8.2,"v":0.01971},{"s":"gold","t":9.6,"v":0.01985},{"s":"gold","t":10.9,"v":0.01998},{"s":"gold","t":12.3,"v":0.01956},{"s":"gold","t":14,"v":0.01944},{"s":"gold","t":15,"v":0.01956},{"s":"gold","t":16.4,"v":0.01915},{"s":"gold","t":17.4,"v":0.01885},{"s":"gold","t":19,"v":0.01894},{"s":"gold","t":20.4,"v":0.01885},{"s":"gold","t":21.8,"v":0.01894},{"s":"gold","t":23.1,"v":0.0187},{"s":"gold","t":24.5,"v":0.01903},{"s":"gold","t":25.4,"v":0.01935},{"s":"gold","t":26.5,"v":0.01912},{"s":"gold","t":27.8,"v":0.01879},{"s":"gold","t":29.2,"v":0.01832},{"s":"gold","t":30.5,"v":0.01826},{"s":"gold","t":31.9,"v":0.01812},{"s":"gold","t":33,"v":0.01797},{"s":"gold","t":33.9,"v":0.01809},{"s":"gold","t":35.3,"v":0.01803},{"s":"gold","t":36.6,"v":0.01812},{"s":"gold","t":38,"v":0.018},{"s":"gold","t":39.3,"v":0.01785},{"s":"gold","t":40.7,"v":0.018},{"s":"gold","t":42,"v":0.0175},{"s":"gold","t":43.4,"v":0.01774},{"s":"gold","t":44.7,"v":0.01785},{"s":"gold","t":46.1,"v":0.01762},{"s":"gold","t":47.4,"v":0.01774},{"s":"gold","t":48.8,"v":0.01756},{"s":"gold","t":50.1,"v":0.01768},{"s":"gold","t":51.5,"v":0.01744},{"s":"gold","t":52.8,"v":0.01732},{"s":"gold","t":54.2,"v":0.01744},{"s":"gold","t":55.5,"v":0.0175},{"s":"gold","t":56.9,"v":0.01732},{"s":"gold","t":58.2,"v":0.01741},{"s":"gold","t":59.6,"v":0.01732},{"s":"gold","t":60.9,"v":0.01744},{"s":"gold","t":62.3,"v":0.01744},{"s":"gold","t":63.6,"v":0.01753},{"s":"gold","t":65,"v":0.01759},{"s":"gold","t":65.9,"v":0.01703},{"s":"gold","t":67,"v":0.0175},{"s":"gold","t":68.1,"v":0.01774},{"s":"gold","t":69.1,"v":0.01744},{"s":"gold","t":70,"v":0.01768},{"s":"gold","t":71.1,"v":0.0175},{"s":"gold","t":72,"v":0.01782},{"s":"gold","t":73.1,"v":0.01762},{"s":"gold","t":74.5,"v":0.01768},{"s":"gold","t":75.8,"v":0.01779},{"s":"gold","t":76.8,"v":0.018},{"s":"gold","t":77.8,"v":0.01744},{"s":"gold","t":79.2,"v":0.01726},{"s":"gold","t":80.5,"v":0.01744},{"s":"gold","t":81.9,"v":0.01756},{"s":"gold","t":83.2,"v":0.01732},{"s":"gold","t":84.6,"v":0.01721},{"s":"gold","t":85.9,"v":0.01691},{"s":"gold","t":87,"v":0.01738},{"s":"gold","t":88,"v":0.01744},{"s":"gold","t":89.3,"v":0.01703},{"s":"gold","t":90.7,"v":0.01726},{"s":"gold","t":92,"v":0.01703},{"s":"gold","t":93.4,"v":0.01679},{"s":"gold","t":94.7,"v":0.01709},{"s":"gold","t":96.1,"v":0.01691},{"s":"gold","t":97.4,"v":0.01715},{"s":"gold","t":98.8,"v":0.01697},{"s":"gold","t":100.1,"v":0.01715},{"s":"gold","t":101.5,"v":0.01697},{"s":"gold","t":102.8,"v":0.01726},{"s":"gold","t":104.2,"v":0.01694},{"s":"gold","t":105.5,"v":0.01729},{"s":"gold","t":106.9,"v":0.01703},{"s":"gold","t":108.2,"v":0.01726},{"s":"gold","t":109.6,"v":0.017},{"s":"gold","t":110.9,"v":0.01706},{"s":"gold","t":112.3,"v":0.01703},{"s":"gold","t":113.6,"v":0.01706},{"s":"gold","t":115,"v":0.01721},{"s":"gold","t":116.4,"v":0.01691},{"s":"gold","t":117.7,"v":0.01679},{"s":"gold","t":119.1,"v":0.01691},{"s":"gold","t":120.4,"v":0.01662},{"s":"gold","t":121.4,"v":0.0165},{"s":"gold","t":122.5,"v":0.01674},{"s":"gold","t":123.6,"v":0.01715},{"s":"gold","t":124.8,"v":0.01709},{"s":"gold","t":126.1,"v":0.01679},{"s":"gold","t":127.5,"v":0.01674},{"s":"gold","t":128.8,"v":0.01718},{"s":"gold","t":130.2,"v":0.01703},{"s":"gold","t":131.5,"v":0.01691},{"s":"gold","t":132.9,"v":0.01676},{"s":"gold","t":134.2,"v":0.01697},{"s":"gold","t":135.2,"v":0.01706},{"s":"gold","t":136,"v":0.01732},{"s":"gold","t":137,"v":0.01691},{"s":"gold","t":138.7,"v":0.01709},{"s":"gold","t":140.1,"v":0.01726},{"s":"gold","t":141.4,"v":0.01744},{"s":"gold","t":142.4,"v":0.01759},{"s":"gold","t":143.4,"v":0.01738},{"s":"gold","t":144.8,"v":0.01741},{"s":"gold","t":146.2,"v":0.01703},{"s":"gold","t":147.5,"v":0.01726},{"s":"gold","t":148.9,"v":0.01679},{"s":"gold","t":150.2,"v":0.01691},{"s":"gold","t":151.6,"v":0.017},{"s":"gold","t":153.3,"v":0.01718},{"s":"gold","t":154.7,"v":0.01668},{"s":"gold","t":156,"v":0.01674},{"s":"gold","t":157.6,"v":0.0165},{"s":"gold","t":159,"v":0.01679},{"s":"gold","t":160.3,"v":0.017},{"s":"gold","t":161.6,"v":0.01691},{"s":"gold","t":163,"v":0.01668},{"s":"gold","t":164.3,"v":0.01691},{"s":"gold","t":165.7,"v":0.01668},{"s":"gold","t":166.8,"v":0.01738},{"s":"gold","t":168.1,"v":0.01691},{"s":"gold","t":169.5,"v":0.01674},{"s":"gold","t":170.8,"v":0.01674},{"s":"gold","t":172.1,"v":0.01674},{"s":"gold","t":173.4,"v":0.01674},{"s":"gold","t":174.8,"v":0.01656},{"s":"gold","t":176.1,"v":0.01615},{"s":"gold","t":177.5,"v":0.01644},{"s":"gold","t":178.9,"v":0.01691},{"s":"gold","t":180.2,"v":0.01674},{"s":"gold","t":181.6,"v":0.01685},{"s":"gold","t":182.9,"v":0.01709},{"s":"gold","t":184.2,"v":0.01726},{"s":"gold","t":185.6,"v":0.01703},{"s":"gold","t":186.9,"v":0.01674},{"s":"gold","t":188.3,"v":0.01691},{"s":"gold","t":189.6,"v":0.01668},{"s":"gold","t":191,"v":0.01691},{"s":"gold","t":192.4,"v":0.01709},{"s":"gold","t":193.7,"v":0.01721},{"s":"gold","t":194.8,"v":0.01738},{"s":"gold","t":195.8,"v":0.01721},{"s":"gold","t":196.8,"v":0.01792},{"s":"gold","t":197.8,"v":0.01715},{"s":"gold","t":199.1,"v":0.01738},{"s":"gold","t":200.5,"v":0.01691},{"s":"gold","t":201.8,"v":0.01674},{"s":"gold","t":203.2,"v":0.01697},{"s":"gold","t":204.5,"v":0.01679},{"s":"gold","t":205.9,"v":0.01691},{"s":"gold","t":207.2,"v":0.01715},{"s":"gold","t":208.6,"v":0.01709},{"s":"gold","t":209.9,"v":0.01744},{"s":"gold","t":211.3,"v":0.01732},{"s":"gold","t":212.6,"v":0.01744},{"s":"gold","t":214,"v":0.0175},{"s":"gold","t":215.1,"v":0.01771},{"s":"gold","t":216,"v":0.01738},{"s":"gold","t":217.4,"v":0.01721},{"s":"gold","t":218.7,"v":0.01691},{"s":"gold","t":219.4,"v":0.01668},{"s":"gold","t":220.5,"v":0.01721},{"s":"gold","t":221.4,"v":0.01715},{"s":"gold","t":222.8,"v":0.01726},{"s":"gold","t":224.1,"v":0.01721},{"s":"gold","t":225.5,"v":0.01756},{"s":"gold","t":226.8,"v":0.01768},{"s":"gold","t":228.2,"v":0.01726},{"s":"gold","t":229.5,"v":0.01691},{"s":"gold","t":230.5,"v":0.01674},{"s":"gold","t":231.5,"v":0.01709},{"s":"gold","t":232.9,"v":0.01703},{"s":"gold","t":234.2,"v":0.01715},{"s":"gold","t":235.3,"v":0.01697},{"s":"gold","t":236.3,"v":0.01726},{"s":"gold","t":237.6,"v":0.01726},{"s":"gold","t":239.2,"v":0.01726},
{"s":"black","t":1.9,"v":0.01821},{"s":"black","t":3.5,"v":0.01844},{"s":"black","t":4.9,"v":0.01868},{"s":"black","t":5.9,"v":0.01888},{"s":"black","t":7.3,"v":0.01894},{"s":"black","t":8.6,"v":0.01897},{"s":"black","t":9.6,"v":0.01915},{"s":"black","t":10.9,"v":0.01928},{"s":"black","t":12.3,"v":0.01924},{"s":"black","t":13.6,"v":0.01906},{"s":"black","t":15,"v":0.01891},{"s":"black","t":16.4,"v":0.01874},{"s":"black","t":17.7,"v":0.0185},{"s":"black","t":19,"v":0.01835},{"s":"black","t":20.4,"v":0.01832},{"s":"black","t":21.8,"v":0.01834},{"s":"black","t":23.1,"v":0.01829},{"s":"black","t":24.5,"v":0.01818},{"s":"black","t":25.8,"v":0.01797},{"s":"black","t":27.2,"v":0.01774},{"s":"black","t":28.5,"v":0.01756},{"s":"black","t":29.9,"v":0.01744},{"s":"black","t":31.2,"v":0.01744},{"s":"black","t":32.6,"v":0.0175},{"s":"black","t":33.9,"v":0.01768},{"s":"black","t":35.3,"v":0.01782},{"s":"black","t":36.6,"v":0.01788},{"s":"black","t":38,"v":0.01774},{"s":"black","t":39.3,"v":0.01744},{"s":"black","t":40.7,"v":0.01735},{"s":"black","t":42,"v":0.01729},{"s":"black","t":43.4,"v":0.01709},{"s":"black","t":44.7,"v":0.01679},{"s":"black","t":46.1,"v":0.01662},{"s":"black","t":47.4,"v":0.0165},{"s":"black","t":48.8,"v":0.01644},{"s":"black","t":50.1,"v":0.01644},{"s":"black","t":51.5,"v":0.01641},{"s":"black","t":52.8,"v":0.01635},{"s":"black","t":54.2,"v":0.01635},{"s":"black","t":55.5,"v":0.01632},{"s":"black","t":56.9,"v":0.01635},{"s":"black","t":58.2,"v":0.01638},{"s":"black","t":59.6,"v":0.01641},{"s":"black","t":60.9,"v":0.01632},{"s":"black","t":62.3,"v":0.01628},{"s":"black","t":63.6,"v":0.01624},{"s":"black","t":65,"v":0.01621},{"s":"black","t":66.4,"v":0.01619},{"s":"black","t":67.7,"v":0.01618},{"s":"black","t":69.1,"v":0.01621},{"s":"black","t":70.4,"v":0.01632},{"s":"black","t":71.8,"v":0.01644},{"s":"black","t":73.1,"v":0.01653},{"s":"black","t":74.5,"v":0.01659},{"s":"black","t":75.8,"v":0.01679},{"s":"black","t":76.9,"v":0.01726},{"s":"black","t":77.8,"v":0.01768},{"s":"black","t":78.9,"v":0.01797},{"s":"black","t":80.3,"v":0.01809},{"s":"black","t":81.6,"v":0.01809},{"s":"black","t":82.6,"v":0.01797},{"s":"black","t":83.9,"v":0.01774},{"s":"black","t":85.3,"v":0.01756},{"s":"black","t":86.6,"v":0.01747},{"s":"black","t":88,"v":0.01741},{"s":"black","t":89.3,"v":0.01729},{"s":"black","t":90.7,"v":0.01715},{"s":"black","t":92,"v":0.01709},{"s":"black","t":93.4,"v":0.01703},{"s":"black","t":94.7,"v":0.01709},{"s":"black","t":96.1,"v":0.01724},{"s":"black","t":97.4,"v":0.01732},{"s":"black","t":98.8,"v":0.01735},{"s":"black","t":100.1,"v":0.01732},{"s":"black","t":101.5,"v":0.01738},{"s":"black","t":102.8,"v":0.01739},{"s":"black","t":104.2,"v":0.01726},{"s":"black","t":105.5,"v":0.01697},{"s":"black","t":106.9,"v":0.01668},{"s":"black","t":108.2,"v":0.01644},{"s":"black","t":109.2,"v":0.01621},{"s":"black","t":110.3,"v":0.01609},{"s":"black","t":111.6,"v":0.01597},{"s":"black","t":113,"v":0.01579},{"s":"black","t":114.3,"v":0.01574},{"s":"black","t":116.4,"v":0.01579},{"s":"black","t":117.7,"v":0.01603},{"s":"black","t":119.1,"v":0.01626},{"s":"black","t":120.4,"v":0.0165},{"s":"black","t":121.4,"v":0.01656},{"s":"black","t":122.7,"v":0.01668},{"s":"black","t":124.1,"v":0.01681},{"s":"black","t":125.4,"v":0.01674},{"s":"black","t":126.8,"v":0.01665},{"s":"black","t":128.1,"v":0.01653},{"s":"black","t":129.5,"v":0.01638},{"s":"black","t":130.8,"v":0.01621},{"s":"black","t":132.2,"v":0.01615},{"s":"black","t":133.5,"v":0.01621},{"s":"black","t":134.9,"v":0.01638},{"s":"black","t":136.3,"v":0.01662},{"s":"black","t":137.6,"v":0.01674},{"s":"black","t":139,"v":0.01691},{"s":"black","t":140.3,"v":0.01709},{"s":"black","t":141.7,"v":0.01718},{"s":"black","t":143,"v":0.01732},{"s":"black","t":144.4,"v":0.01744},{"s":"black","t":145.7,"v":0.01738},{"s":"black","t":147.1,"v":0.01732},{"s":"black","t":148,"v":0.0175},{"s":"black","t":149.1,"v":0.01762},{"s":"black","t":150.4,"v":0.01747},{"s":"black","t":151.8,"v":0.01721},{"s":"black","t":153.1,"v":0.01691},{"s":"black","t":154.5,"v":0.01668},{"s":"black","t":155.9,"v":0.01656},{"s":"black","t":157.2,"v":0.01656},{"s":"black","t":158.6,"v":0.01662},{"s":"black","t":159.9,"v":0.01679},{"s":"black","t":161.3,"v":0.01694},{"s":"black","t":162.6,"v":0.01691},{"s":"black","t":164,"v":0.01679},{"s":"black","t":165.3,"v":0.01662},{"s":"black","t":166.7,"v":0.01644},{"s":"black","t":168.1,"v":0.01626},{"s":"black","t":169.4,"v":0.01615},{"s":"black","t":170.7,"v":0.01612},{"s":"black","t":172.1,"v":0.01615},{"s":"black","t":173.4,"v":0.01621},{"s":"black","t":174.8,"v":0.01632},{"s":"black","t":176.1,"v":0.01644},{"s":"black","t":177.5,"v":0.01656},{"s":"black","t":178.9,"v":0.01674},{"s":"black","t":180.2,"v":0.01694},{"s":"black","t":181.6,"v":0.01721},{"s":"black","t":182.9,"v":0.01738},{"s":"black","t":184.2,"v":0.01747},{"s":"black","t":185.6,"v":0.01753},{"s":"black","t":186.9,"v":0.01747},{"s":"black","t":188.3,"v":0.01735},{"s":"black","t":189.6,"v":0.01724},{"s":"black","t":191,"v":0.01718},{"s":"black","t":192.4,"v":0.01715},{"s":"black","t":193.7,"v":0.01718},{"s":"black","t":195.1,"v":0.01724},{"s":"black","t":196.4,"v":0.01732},{"s":"black","t":197.8,"v":0.01738},{"s":"black","t":199.1,"v":0.01732},{"s":"black","t":200.5,"v":0.01715},{"s":"black","t":201.8,"v":0.01685},{"s":"black","t":203.2,"v":0.01656},{"s":"black","t":204.5,"v":0.01632},{"s":"black","t":205.9,"v":0.01609},{"s":"black","t":207.2,"v":0.01591},{"s":"black","t":208.6,"v":0.01579},{"s":"black","t":209.9,"v":0.01574},{"s":"black","t":211.3,"v":0.01568},{"s":"black","t":212.6,"v":0.01568},{"s":"black","t":214,"v":0.01597},{"s":"black","t":215.4,"v":0.01621},{"s":"black","t":216.7,"v":0.01638},{"s":"black","t":218.1,"v":0.01656},{"s":"black","t":219.4,"v":0.01674},{"s":"black","t":220.8,"v":0.01703},{"s":"black","t":221.9,"v":0.01732},{"s":"black","t":222.8,"v":0.01759},{"s":"black","t":224.2,"v":0.01771},{"s":"black","t":225.5,"v":0.01774},{"s":"black","t":226.9,"v":0.01768},{"s":"black","t":228.2,"v":0.01759},{"s":"black","t":229.6,"v":0.01759},{"s":"black","t":230.9,"v":0.0175},{"s":"black","t":232.3,"v":0.01732},{"s":"black","t":233.6,"v":0.01715},{"s":"black","t":235,"v":0.01697},{"s":"black","t":236.3,"v":0.01685},{"s":"black","t":237.6,"v":0.01679},{"s":"black","t":239,"v":0.01676}
]},
"layer":[
{"data":{"name":"lines"},
 "transform":[{"filter":"datum.s !== 'black'"}],
 "mark":{"type":"line","strokeWidth":3.2,"strokeJoin":"round","clip":true},
 "encoding":{
  "x":{"field":"t","type":"quantitative","scale":{"domain":[-9.7,250.3],"nice":false,"zero":false},
       "axis":{"title":"Time step t","values":[0,50,100,150,200,250],"grid":false,"titlePadding":8}},
  "y":{"field":"v","type":"quantitative","scale":{"domain":[0.01475,0.02021],"nice":false,"zero":false},
       "axis":{"title":"‖(sᵗ − sᵗ⁻¹)/Δt‖₁","values":[0.015,0.016,0.017,0.018,0.019,0.02],"format":".3f","grid":true,"gridColor":"#b0b0b0","gridWidth":1.6,"titlePadding":10}},
  "color":{"field":"s","type":"nominal","legend":null,
    "scale":{"domain":["navy","violet","magenta","pink","orange","lorange","gold"],"range":["#0d0887","#6a00a8","#aa2b94","#d6566c","#f58b47","#fca636","#fcce25"]}},
  "order":{"field":"t","type":"quantitative"}
 }},
{"data":{"name":"lines"},
 "transform":[{"filter":"datum.s === 'black'"}],
 "mark":{"type":"line","strokeWidth":3.2,"color":"black","strokeDash":[11,5],"clip":true},
 "encoding":{"x":{"field":"t","type":"quantitative"},"y":{"field":"v","type":"quantitative"},"order":{"field":"t","type":"quantitative"}}},
{"data":{"values":[{}]},
 "mark":{"type":"rect","fill":"#f2f2f2","stroke":"#2f4f4f","strokeWidth":2,"cornerRadius":6},
 "encoding":{"x":{"datum":-10.4},"x2":{"datum":27.3},"y":{"datum":0.014723},"y2":{"datum":0.015429}}},
{"data":{"values":[{"txt":"Tra"}]},
 "mark":{"type":"text","font":"DejaVu Sans Mono","fontSize":21,"align":"left","baseline":"alphabetic","color":"black"},
 "encoding":{"text":{"field":"txt"},"x":{"datum":-7.2},"y":{"datum":0.015046}}},
{"data":{"values":[{"txt":"long"}]},
 "mark":{"type":"text","font":"DejaVu Sans Mono","fontSize":16.5,"align":"left","baseline":"alphabetic","color":"black"},
 "encoding":{"text":{"field":"txt"},"x":{"datum":8.2},"y":{"datum":0.01496}}}
]
}
